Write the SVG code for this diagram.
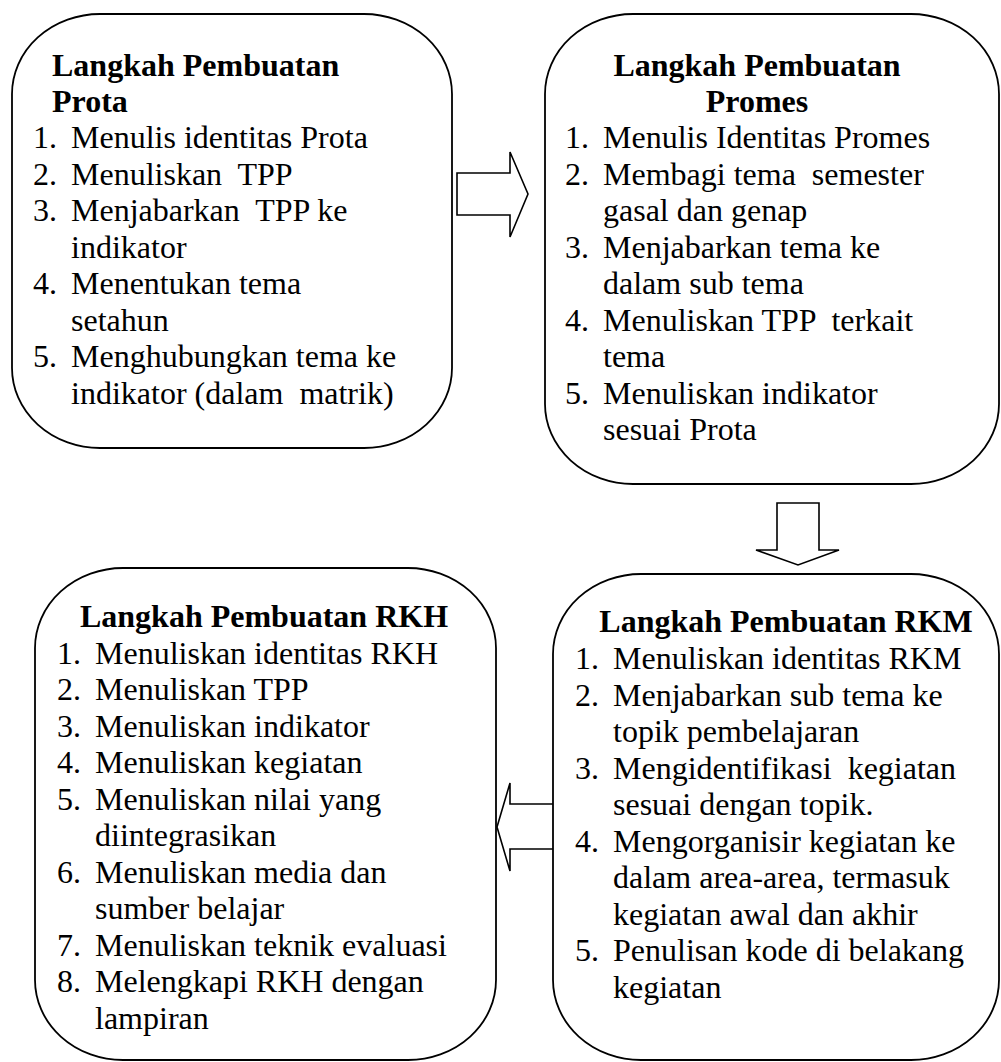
<svg xmlns="http://www.w3.org/2000/svg" width="1001" height="1062" viewBox="0 0 1001 1062" font-family="'Liberation Serif', 'Times New Roman', Times, serif" font-size="32">
<style>
.box{fill:#fff;stroke:#000;stroke-width:1.8}
.arr{fill:#fff;stroke:#000;stroke-width:1.6;stroke-linejoin:miter}
.t{font-weight:bold}
.c{text-anchor:middle}
</style>
<rect width="1001" height="1062" fill="#fff"/>
<g id="connectors">
<polygon class="arr" points="457,173 510,173 510,152 528,194 510,237 510,215 457,215"/>
<polygon class="arr" points="777,503 819,503 819,550 839,550 798,565 756,550 777,550"/>
<polygon class="arr" points="554,804 510,804 510,783 497,827 510,871 510,849 554,849"/>
</g>
<g id="node-prota">
<rect class="box" x="12" y="14" width="440" height="434" rx="88" ry="80"/>
<text class="t" x="52" y="76">Langkah Pembuatan</text>
<text class="t" x="52" y="112">Prota</text>
<text x="33" y="148">1.</text><text x="71" y="148">Menulis identitas Prota</text>
<text x="33" y="185">2.</text><text x="71" y="185" xml:space="preserve">Menuliskan  TPP</text>
<text x="33" y="221">3.</text><text x="71" y="221" xml:space="preserve">Menjabarkan  TPP ke</text>
<text x="71" y="258">indikator</text>
<text x="33" y="294">4.</text><text x="71" y="294">Menentukan tema</text>
<text x="71" y="331">setahun</text>
<text x="33" y="367">5.</text><text x="71" y="367">Menghubungkan tema ke</text>
<text x="71" y="404" xml:space="preserve">indikator (dalam  matrik)</text>
</g>
<g id="node-promes">
<rect class="box" x="545" y="14" width="454" height="470" rx="88" ry="80"/>
<text class="t c" x="757" y="76">Langkah Pembuatan</text>
<text class="t c" x="757" y="112">Promes</text>
<text x="565" y="148">1.</text><text x="603" y="148">Menulis Identitas Promes</text>
<text x="565" y="185">2.</text><text x="603" y="185" xml:space="preserve">Membagi tema  semester</text>
<text x="603" y="221">gasal dan genap</text>
<text x="565" y="258">3.</text><text x="603" y="258">Menjabarkan tema ke</text>
<text x="603" y="294">dalam sub tema</text>
<text x="565" y="331">4.</text><text x="603" y="331" xml:space="preserve">Menuliskan TPP  terkait</text>
<text x="603" y="367">tema</text>
<text x="565" y="404">5.</text><text x="603" y="404">Menuliskan indikator</text>
<text x="603" y="440">sesuai Prota</text>
</g>
<g id="node-rkh">
<rect class="box" x="35" y="568" width="461" height="492" rx="88" ry="80"/>
<text class="t c" x="264" y="627">Langkah Pembuatan RKH</text>
<text x="57" y="664">1.</text><text x="95" y="664">Menuliskan identitas RKH</text>
<text x="57" y="700">2.</text><text x="95" y="700">Menuliskan TPP</text>
<text x="57" y="737">3.</text><text x="95" y="737">Menuliskan indikator</text>
<text x="57" y="773">4.</text><text x="95" y="773">Menuliskan kegiatan</text>
<text x="57" y="810">5.</text><text x="95" y="810">Menuliskan nilai yang</text>
<text x="95" y="846">diintegrasikan</text>
<text x="57" y="883">6.</text><text x="95" y="883">Menuliskan media dan</text>
<text x="95" y="919">sumber belajar</text>
<text x="57" y="956">7.</text><text x="95" y="956">Menuliskan teknik evaluasi</text>
<text x="57" y="992">8.</text><text x="95" y="992">Melengkapi RKH dengan</text>
<text x="95" y="1029">lampiran</text>
</g>
<g id="node-rkm">
<rect class="box" x="553" y="574" width="446" height="486" rx="88" ry="80"/>
<text class="t c" x="786" y="632">Langkah Pembuatan RKM</text>
<text x="575" y="669">1.</text><text x="613" y="669">Menuliskan identitas RKM</text>
<text x="575" y="706">2.</text><text x="613" y="706">Menjabarkan sub tema ke</text>
<text x="613" y="742">topik pembelajaran</text>
<text x="575" y="779">3.</text><text x="613" y="779" xml:space="preserve">Mengidentifikasi  kegiatan</text>
<text x="613" y="815">sesuai dengan topik.</text>
<text x="575" y="852">4.</text><text x="613" y="852">Mengorganisir kegiatan ke</text>
<text x="613" y="888">dalam area-area, termasuk</text>
<text x="613" y="925">kegiatan awal dan akhir</text>
<text x="575" y="961">5.</text><text x="613" y="961">Penulisan kode di belakang</text>
<text x="613" y="998">kegiatan</text>
</g>
</svg>
